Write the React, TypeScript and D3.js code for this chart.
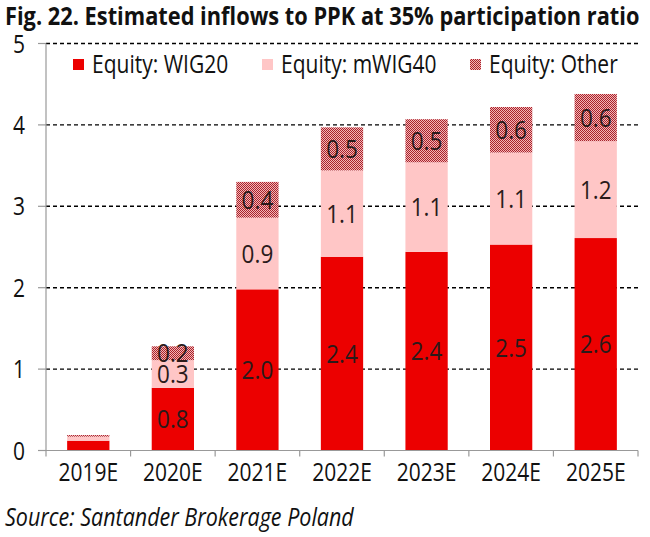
import * as d3 from "d3";

const years = ["2019E", "2020E", "2021E", "2022E", "2023E", "2024E", "2025E"];
const wig20 = [0.12, 0.77, 1.98, 2.38, 2.44, 2.53, 2.61];
const mwig40 = [0.05, 0.34, 0.88, 1.06, 1.1, 1.13, 1.19];
const other = [0.02, 0.17, 0.44, 0.53, 0.53, 0.56, 0.58];
const yTicks = [0, 1, 2, 3, 4, 5];

const seriesKeys = ["wig20", "mwig40", "other"];
const seriesNames = ["Equity: WIG20", "Equity: mWIG40", "Equity: Other"];
const fills = ["#EC0000", "#FFC6C6", "url(#hatch)"];

const W = 650;
const H = 537;
const font = "'Open Sans', 'Noto Sans', sans-serif";

// text that is a bit taller than it is wide, like the source picture
function T({ x, y, size, sy = 1.2, anchor = "start", weight = "normal", italic = false, fill = "#111", children }: any) {
  return (
    <text
      transform={`translate(${x},${y}) scale(1,${sy})`}
      textAnchor={anchor}
      fontFamily={font}
      fontSize={size}
      fontWeight={weight}
      fontStyle={italic ? "italic" : "normal"}
      fill={fill}
    >
      {children}
    </text>
  );
}

export default function App() {
  const x = d3.scaleBand<string>().domain(years).range([46, 638]).paddingInner(0.5).paddingOuter(0.25);
  const y = d3.scaleLinear().domain([0, 5]).range([450.5, 43.5]);

  const rows = years.map((yr, i) => ({ year: yr, wig20: wig20[i], mwig40: mwig40[i], other: other[i] }));
  const stacked = d3.stack<any>().keys(seriesKeys)(rows);
  const fmt = d3.format(".1f");
  const step = x.step();

  return (
    <svg width={W} height={H} style={{ position: "absolute", left: 0, top: 0, background: "#fff" }}>
      <defs>
        <pattern id="hatch" width={2} height={2} patternUnits="userSpaceOnUse">
          <rect width={2} height={2} fill="#F4B6B6" />
          <rect width={1} height={1} fill="#A8222C" />
          <rect x={1} y={1} width={1} height={1} fill="#A8222C" />
        </pattern>
      </defs>

      <T x={5} y={25} size={21.8} sy={1.15} weight="bold">
        Fig. 22. Estimated inflows to PPK at 35% participation ratio
      </T>

      {/* gridlines */}
      {yTicks.filter((t) => t > 0).map((t) => (
        <line key={t} x1={46} x2={638} y1={y(t)} y2={y(t)} stroke="#000" strokeWidth={1.4} strokeDasharray="4,3" />
      ))}

      {/* bars */}
      {stacked.map((s, si) =>
        s.map((d, i) => (
          <rect
            key={si + "-" + i}
            x={x(years[i])}
            width={x.bandwidth()}
            y={y(d[1])}
            height={y(d[0]) - y(d[1])}
            fill={fills[si]}
          />
        ))
      )}

      {/* segment labels */}
      {stacked.map((s, si) =>
        s.map((d, i) =>
          i === 0 ? null : (
            <T
              key={"l" + si + "-" + i}
              x={(x(years[i]) as number) + x.bandwidth() / 2}
              y={y((d[0] + d[1]) / 2) + 9}
              size={22.5}
              sy={1.12}
              anchor="middle"
              fill="#2a1a1a"
            >
              {fmt(d[1] - d[0])}
            </T>
          )
        )
      )}

      {/* y axis */}
      <line x1={46} x2={46} y1={y(5)} y2={y(0)} stroke="#999" strokeWidth={1.2} />
      {yTicks.map((t) => (
        <g key={"y" + t}>
          <line x1={38} x2={46} y1={y(t)} y2={y(t)} stroke="#999" strokeWidth={1.2} />
          <T x={25} y={y(t) + 9} size={21} anchor="end">
            {t}
          </T>
        </g>
      ))}

      {/* x axis */}
      <line x1={46} x2={638} y1={y(0)} y2={y(0)} stroke="#999" strokeWidth={1.2} />
      {d3.range(years.length + 1).map((i) => (
        <line key={"xt" + i} x1={46 + i * step} x2={46 + i * step} y1={y(0)} y2={y(0) + 6} stroke="#999" strokeWidth={1.2} />
      ))}
      {years.map((yr) => (
        <T key={yr} x={(x(yr) as number) + x.bandwidth() / 2} y={481} size={21} anchor="middle">
          {yr}
        </T>
      ))}

      {/* legend */}
      {seriesNames.map((n, i) => {
        const lx = [73, 262, 470][i];
        return (
          <g key={n}>
            <rect x={lx} y={59} width={11} height={11} fill={fills[i]} />
            <T x={lx + 19} y={73} size={21}>
              {n}
            </T>
          </g>
        );
      })}

      <T x={5} y={526} size={21.5} italic>
        Source: Santander Brokerage Poland
      </T>
    </svg>
  );
}
